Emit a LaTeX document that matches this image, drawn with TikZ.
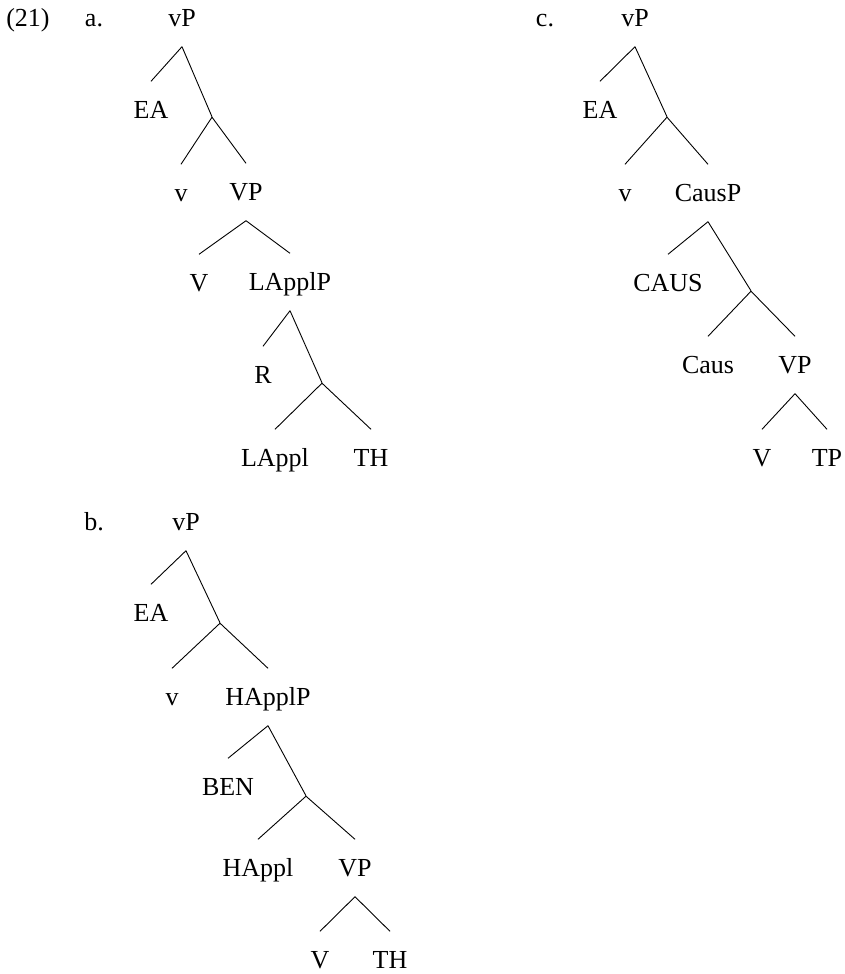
\documentclass[tikz,border=0pt]{standalone}
\usepackage{fontspec}
\setmainfont{Liberation Serif}
\usetikzlibrary{arrows,shapes}
\tikzstyle{cat}=[font=\fontsize{26}{30}\selectfont,text height=17pt,text depth=0pt,inner xsep=2pt,inner ysep=20pt]
\tikzstyle{branch}=[inner sep=0pt,minimum size=0pt]
\tikzstyle{treeedge} = [draw,line width=0.9pt]

\begin{document}
\begin{tikzpicture}[x=1pt,y=-1pt]

    \useasboundingbox (0,0) rectangle (845,974);

    % example number and tree letters
    \foreach \pos/ \name/ \word in {{(28,18)/num/(21)}, {(94,18)/la/a.}, {(94,522)/lb/b.}, {(545,18)/lc/c.}}
        \node[cat] (\name) at \pos {\word};

    % tree a
    \foreach \pos/ \name/ \word in {{(182,18)/aroot/vP}, {(151,110)/aEA/EA}, {(181,193)/av/v}, {(246,192)/aVP/VP},
        {(199,283)/aV/V}, {(290,282)/aLApplP/LApplP}, {(263,375)/aR/R}, {(275,458)/aLAppl/LAppl}, {(371,458)/aTH/TH}}
        \node[cat] (\name) at \pos {\word};
    \foreach \pos/ \name in {{(212,117)/a1}, {(322,383)/a2}}
        \node[branch] (\name) at \pos {};

    \foreach \source/ \dest in {aroot/aEA, aroot/a1, a1/av, a1/aVP, aVP/aV, aVP/aLApplP,
        aLApplP/aR, aLApplP/a2, a2/aLAppl, a2/aTH}
        \path[treeedge] (\source.south) -- (\dest.north);

    % tree b
    \foreach \pos/ \name/ \word in {{(186,522)/broot/vP}, {(151,613)/bEA/EA}, {(172,697)/bv/v}, {(268,697)/bHApplP/HApplP},
        {(228,787)/bBEN/BEN}, {(258,868)/bHAppl/HAppl}, {(355,868)/bVP/VP}, {(320,960)/bV/V}, {(390,960)/bTH/TH}}
        \node[cat] (\name) at \pos {\word};
    \foreach \pos/ \name in {{(220,623)/b1}, {(306,796)/b2}}
        \node[branch] (\name) at \pos {};

    \foreach \source/ \dest in {broot/bEA, broot/b1, b1/bv, b1/bHApplP, bHApplP/bBEN, bHApplP/b2,
        b2/bHAppl, b2/bVP, bVP/bV, bVP/bTH}
        \path[treeedge] (\source.south) -- (\dest.north);

    % tree c
    \foreach \pos/ \name/ \word in {{(635,18)/croot/vP}, {(600,110)/cEA/EA}, {(625,193)/cv/v}, {(708,193)/cCausP/CausP},
        {(668,283)/cCAUS/CAUS}, {(708,365)/cCaus/Caus}, {(795,365)/cVP/VP}, {(762,458)/cV/V}, {(827,458)/cTP/TP}}
        \node[cat] (\name) at \pos {\word};
    \foreach \pos/ \name in {{(667,117)/c1}, {(751,291)/c2}}
        \node[branch] (\name) at \pos {};

    \foreach \source/ \dest in {croot/cEA, croot/c1, c1/cv, c1/cCausP, cCausP/cCAUS, cCausP/c2,
        c2/cCaus, c2/cVP, cVP/cV, cVP/cTP}
        \path[treeedge] (\source.south) -- (\dest.north);

\end{tikzpicture}
\end{document}
